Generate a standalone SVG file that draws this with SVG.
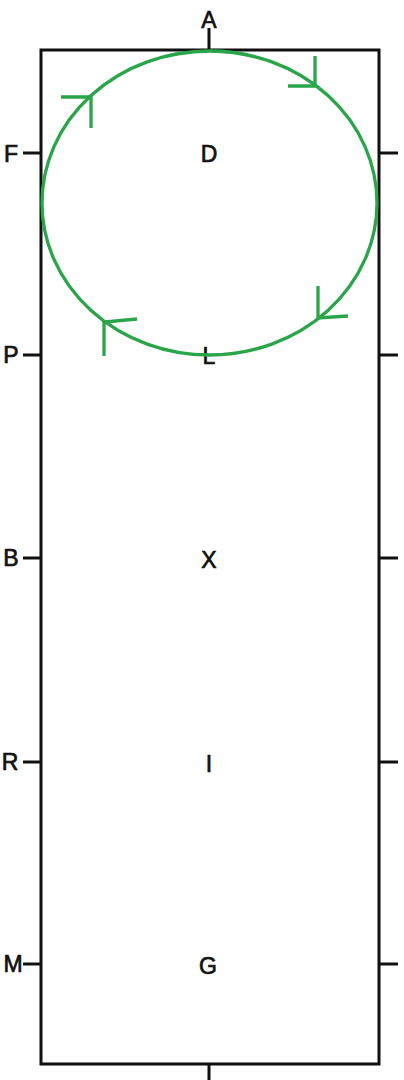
<svg xmlns="http://www.w3.org/2000/svg" width="404" height="1080" viewBox="0 0 404 1080">
<style>
.ln{stroke:#111;stroke-width:3;fill:none}
.lb{font-family:"Liberation Sans",Arial,sans-serif;font-size:23px;fill:#111;stroke:#111;stroke-width:0.7;text-anchor:middle}
.g{stroke:#2aa54a;stroke-width:3.3;fill:none;stroke-linecap:butt}
</style>
<rect width="404" height="1080" fill="#fff"/>
<g id="arena">
<rect class="ln" x="41" y="50" width="338" height="1014"/>
<line class="ln" x1="209" y1="28" x2="209" y2="50"/>
<line class="ln" x1="209" y1="1064" x2="209" y2="1080"/>
</g>
<g id="ticks">
<line class="ln" x1="23" y1="153" x2="41" y2="153"/>
<line class="ln" x1="23" y1="355" x2="41" y2="355"/>
<line class="ln" x1="23" y1="558" x2="41" y2="558"/>
<line class="ln" x1="23" y1="762" x2="41" y2="762"/>
<line class="ln" x1="23" y1="964" x2="41" y2="964"/>
<line class="ln" x1="379" y1="153" x2="398" y2="153"/>
<line class="ln" x1="379" y1="355" x2="398" y2="355"/>
<line class="ln" x1="379" y1="558" x2="398" y2="558"/>
<line class="ln" x1="379" y1="762" x2="398" y2="762"/>
<line class="ln" x1="379" y1="964" x2="398" y2="964"/>
</g>
<g id="labels">
<text class="lb" x="209" y="28">A</text>
<text class="lb" x="11" y="162">F</text>
<text class="lb" x="209" y="162">D</text>
<text class="lb" x="11" y="363">P</text>
<text class="lb" x="209" y="364">L</text>
<text class="lb" x="11" y="566">B</text>
<text class="lb" x="209" y="568">X</text>
<text class="lb" x="10" y="770">R</text>
<text class="lb" x="209" y="772">I</text>
<text class="lb" x="13" y="972">M</text>
<text class="lb" x="208" y="974">G</text>
</g>
<g id="circle">
<ellipse class="g" cx="209.5" cy="203" rx="167.5" ry="152"/>
<polyline class="g" points="61,97 91,97 91,128"/>
<polyline class="g" points="315,56 315,86 288,86"/>
<polyline class="g" points="318,286 318,318 348,316"/>
<polyline class="g" points="104,356 104,322 137,319"/>
</g>
</svg>
